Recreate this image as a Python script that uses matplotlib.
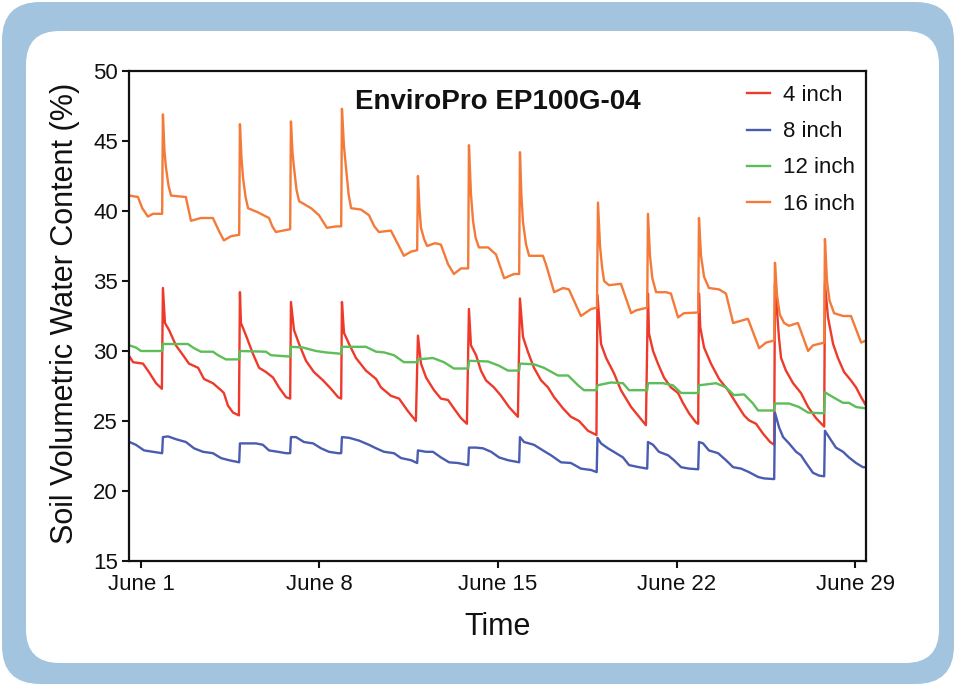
import matplotlib
matplotlib.use("Agg")
import matplotlib.pyplot as plt
from matplotlib.patches import FancyBboxPatch

plt.rcParams['font.family'] = ['Liberation Sans', 'DejaVu Sans']

# ---------------- data (day of June, % VWC) ----------------
title = "EnviroPro EP100G-04"
series_labels = ["4 inch", "8 inch", "12 inch", "16 inch"]
series_colors = ["#EE3A2B", "#4A5CB0", "#5DBD58", "#F47A3A"]
xtick_days = [1, 8, 15, 22, 29]
xtick_labels = ["June 1", "June 8", "June 15", "June 22", "June 29"]
yticks = [15, 20, 25, 30, 35, 40, 45, 50]

t4 = [0.55, 0.69, 1.08, 1.31, 1.59, 1.82, 1.86, 1.94, 2.10, 2.37, 2.65, 2.88, 3.24, 3.47, 3.82, 4.14, 4.25, 4.41, 4.61, 4.84,
      4.88, 4.92, 5.12, 5.39, 5.63, 5.90, 6.18, 6.41, 6.69, 6.85, 6.88, 7.00, 7.20, 7.47, 7.78, 8.14, 8.45, 8.73, 8.85,
      8.88, 8.96, 9.16, 9.43, 9.82, 10.22, 10.41, 10.80, 11.12, 11.47, 11.78, 11.86, 11.98, 12.18, 12.49, 12.76, 13.04,
      13.27, 13.55, 13.78, 13.86, 13.94, 14.14, 14.33, 14.53, 14.84, 15.12, 15.43, 15.78, 15.86, 15.98, 16.18, 16.41,
      16.69, 16.96, 17.20, 17.55, 17.86, 18.18, 18.53, 18.86, 18.90, 19.04, 19.24, 19.55, 19.82, 20.22, 20.49, 20.80,
      20.88, 20.92, 21.08, 21.27, 21.51, 21.78, 22.06, 22.25, 22.49, 22.76, 22.85, 22.88, 22.93, 23.08, 23.35, 23.67,
      24.02, 24.33, 24.65, 24.84, 25.12, 25.39, 25.67, 25.83, 25.86, 26.02, 26.10, 26.29, 26.57, 26.88, 27.16, 27.47,
      27.79, 27.82, 27.94, 28.14, 28.33, 28.57, 28.84, 29.04, 29.24, 29.43]
v4 = [29.6, 29.2, 29.1, 28.5, 27.7, 27.3, 34.5, 32.0, 31.5, 30.4, 29.7, 29.1, 28.8, 28.0, 27.7, 27.2, 27.0, 26.1, 25.6, 25.4,
      34.2, 32.0, 31.1, 29.8, 28.8, 28.5, 28.1, 27.4, 26.7, 26.6, 33.5, 31.5, 30.5, 29.3, 28.5, 27.9, 27.3, 26.7, 26.6,
      33.5, 31.3, 30.5, 29.5, 28.6, 28.0, 27.4, 26.8, 26.6, 25.7, 25.0, 31.1, 29.1, 28.1, 27.2, 26.6, 26.5,
      25.9, 25.2, 24.8, 33.0, 30.4, 29.7, 28.6, 27.9, 27.4, 26.8, 26.0, 25.3, 33.75, 31.0, 29.9, 28.8,
      27.9, 27.4, 26.7, 25.9, 25.3, 25.0, 24.3, 24.0, 34.0, 30.5, 29.5, 28.4, 27.2, 26.0, 25.4, 24.7,
      34.1, 31.25, 30.0, 29.1, 28.1, 27.4, 27.0, 26.3, 25.55, 24.9, 24.8, 34.1, 31.7, 30.25, 29.1, 28.0,
      27.2, 26.3, 25.4, 25.05, 24.8, 24.1, 23.5, 23.3, 34.8, 30.9, 29.5, 28.6, 27.7, 27.0, 26.0, 25.2,
      24.6, 34.8, 32.4, 30.5, 29.5, 28.5, 27.9, 27.4, 26.7, 26.1]

t8 = [0.55, 0.80, 1.12, 1.47, 1.83, 1.86, 2.06, 2.37, 2.76, 3.08, 3.43, 3.82, 4.14, 4.45, 4.85, 4.88, 5.12, 5.51, 5.78,
      6.02, 6.37, 6.69, 6.85, 6.88, 7.08, 7.39, 7.75, 8.06, 8.37, 8.73, 8.85, 8.88, 9.16, 9.55, 9.94, 10.22, 10.53,
      10.92, 11.20, 11.59, 11.83, 11.86, 12.18, 12.45, 12.76, 13.08, 13.43, 13.83, 13.86, 14.14, 14.41, 14.73, 15.04,
      15.39, 15.83, 15.86, 16.02, 16.41, 16.76, 17.08, 17.47, 17.86, 18.25, 18.65, 18.87, 18.90, 19.04, 19.31, 19.63,
      19.90, 20.14, 20.53, 20.85, 20.88, 21.08, 21.31, 21.67, 21.90, 22.18, 22.49, 22.85, 22.88, 23.04, 23.27, 23.63,
      23.94, 24.22, 24.53, 24.84, 25.20, 25.43, 25.83, 25.86, 26.02, 26.18, 26.41, 26.69, 26.88, 27.08, 27.35, 27.59,
      27.79, 27.82, 27.98, 28.25, 28.53, 28.76, 29.04, 29.31, 29.43]
v8 = [23.5, 23.3, 22.9, 22.8, 22.7, 23.85, 23.9, 23.7, 23.5, 23.05, 22.8, 22.7, 22.35, 22.2, 22.05, 23.4, 23.4, 23.4, 23.3,
      22.9, 22.8, 22.7, 22.7, 23.85, 23.85, 23.5, 23.4, 23.05, 22.8, 22.7, 22.7, 23.85, 23.8, 23.6, 23.3, 23.05, 22.8,
      22.7, 22.35, 22.2, 22.0, 22.9, 22.8, 22.8, 22.4, 22.05, 22.0, 21.85, 23.1, 23.1, 23.05, 22.8, 22.4,
      22.2, 22.05, 23.85, 23.5, 23.3, 22.9, 22.55, 22.05, 22.0, 21.6, 21.5, 21.35, 23.8, 23.4, 23.05, 22.7,
      22.4, 21.85, 21.7, 21.6, 23.5, 23.3, 22.8, 22.55, 22.2, 21.7, 21.6, 21.55, 23.5, 23.4, 22.9, 22.7,
      22.2, 21.7, 21.6, 21.35, 21.0, 20.9, 20.85, 25.6, 24.55, 23.85, 23.4, 22.8, 22.55, 22.0, 21.3, 21.1,
      21.05, 24.3, 23.85, 23.1, 22.8, 22.4, 22.0, 21.7, 21.7]

t12 = [0.55, 0.80, 1.00, 1.83, 1.86, 2.84, 3.08, 3.35, 3.82, 4.02, 4.33, 4.85, 4.88, 5.90, 6.10, 6.85, 6.88, 7.35, 7.86,
       8.25, 8.85, 8.88, 9.82, 10.22, 10.53, 10.92, 11.31, 11.83, 11.86, 12.45, 12.88, 13.27, 13.83, 13.86, 14.61,
       15.04, 15.39, 15.83, 15.86, 16.41, 16.80, 17.35, 17.75, 18.14, 18.37, 18.87, 18.90, 19.43, 19.90, 20.14, 20.85,
       20.88, 21.47, 21.86, 22.18, 22.85, 22.88, 23.55, 23.94, 24.25, 24.65, 25.00, 25.20, 25.83, 25.86, 26.41, 26.80,
       27.16, 27.79, 27.82, 28.14, 28.53, 28.76, 29.04, 29.43]
v12 = [30.4, 30.25, 30.0, 30.0, 30.5, 30.5, 30.2, 29.95, 29.95, 29.7, 29.4, 29.4, 30.0, 29.95, 29.7, 29.6, 30.3, 30.25, 30.0,
       29.9, 29.8, 30.3, 30.3, 29.95, 29.9, 29.7, 29.2, 29.2, 29.4, 29.5, 29.2, 28.75, 28.75, 29.3, 29.25,
       28.95, 28.6, 28.6, 29.1, 29.05, 28.8, 28.25, 28.25, 27.55, 27.2, 27.2, 27.55, 27.75, 27.7, 27.2, 27.2,
       27.7, 27.7, 27.55, 27.0, 27.0, 27.55, 27.7, 27.4, 26.85, 26.9, 26.25, 25.75, 25.75, 26.25, 26.25, 26.0,
       25.6, 25.55, 27.05, 26.7, 26.3, 26.3, 26.0, 25.9]

t16 = [0.55, 0.88, 1.05, 1.27, 1.47, 1.83, 1.86, 1.92, 1.98, 2.08, 2.18, 2.76, 2.96, 3.35, 3.82, 4.05, 4.25, 4.53, 4.85,
       4.88, 4.94, 5.00, 5.10, 5.20, 5.59, 6.02, 6.15, 6.29, 6.57, 6.85,
       6.88, 6.94, 7.00, 7.10, 7.20, 7.67, 7.98, 8.29, 8.65, 8.85,
       8.88, 8.96, 9.04, 9.14, 9.24, 9.63, 9.94, 10.15, 10.33, 10.80, 11.00, 11.31, 11.59, 11.83,
       11.86, 11.92, 11.98, 12.10, 12.22, 12.53, 12.76, 13.04, 13.27, 13.55, 13.83,
       13.86, 13.94, 14.02, 14.12, 14.25, 14.61, 14.92, 15.24, 15.63, 15.83,
       15.86, 15.92, 15.98, 16.10, 16.22, 16.76, 16.88, 17.20, 17.55, 17.78, 18.25, 18.65, 18.88,
       18.92, 19.00, 19.08, 19.16, 19.35, 19.82, 20.22, 20.41, 20.85,
       20.88, 20.96, 21.05, 21.20, 21.59, 21.78, 22.06, 22.29, 22.85,
       22.88, 22.96, 23.08, 23.27, 23.67, 23.94, 24.22, 24.61, 24.80, 25.24, 25.51, 25.83,
       25.86, 25.94, 26.05, 26.22, 26.41, 26.76, 27.16, 27.35, 27.79,
       27.82, 27.90, 28.00, 28.18, 28.53, 28.84, 29.24, 29.43]
v16 = [41.1, 41.0, 40.2, 39.6, 39.8, 39.8, 46.9, 44.3, 43.1, 41.8, 41.1, 41.0, 39.3, 39.5, 39.5, 38.6, 37.9, 38.2, 38.3,
       46.2, 43.8, 42.4, 41.0, 40.2, 39.9, 39.5, 38.9, 38.5, 38.6, 38.7,
       46.4, 44.2, 43.1, 41.5, 40.7, 40.2, 39.7, 38.8, 38.9, 38.9,
       47.3, 44.6, 43.1, 41.2, 40.2, 40.1, 39.7, 38.9, 38.5, 38.6, 37.9, 36.8, 37.1, 37.2,
       42.5, 40.2, 38.8, 38.0, 37.5, 37.7, 37.6, 36.2, 35.5, 35.9, 35.9,
       44.7, 41.2, 39.3, 38.1, 37.4, 37.4, 36.9, 35.2, 35.5, 35.5,
       44.2, 41.0, 39.2, 37.6, 36.8, 36.8, 36.2, 34.2, 34.5, 34.4, 32.5, 33.0, 33.1,
       40.6, 37.5, 36.0, 35.0, 34.7, 34.8, 32.7, 32.9, 33.1,
       39.8, 36.8, 35.2, 34.2, 34.2, 34.1, 32.4, 32.7, 32.75,
       39.5, 36.8, 35.3, 34.5, 34.4, 34.1, 32.0, 32.2, 32.3, 30.2, 30.6, 30.75,
       36.3, 34.0, 32.6, 32.0, 31.8, 32.0, 30.0, 30.4, 30.6,
       38.0, 35.0, 33.6, 32.7, 32.5, 32.5, 30.6, 30.75]

series_t = [t4, t8, t12, t16]
series_v = [v4, v8, v12, v16]

# ---------------- figure ----------------
W, H = 959, 687
fig = plt.figure(figsize=(W / 100, H / 100), dpi=100)
fig.patch.set_facecolor("white")

# decorative frame (drawn beneath the axes)
outer = FancyBboxPatch((2 / W, 3 / H), 952 / W, 682 / H,
                       boxstyle="round,pad=0,rounding_size=0.04",
                       transform=fig.transFigure, facecolor="#A3C4DE", edgecolor="none",
                       mutation_aspect=W / H, zorder=-2)
inner = FancyBboxPatch((26 / W, 24 / H), 913 / W, 632 / H,
                       boxstyle="round,pad=0,rounding_size=0.035",
                       transform=fig.transFigure, facecolor="white", edgecolor="none",
                       mutation_aspect=W / H, zorder=-1)
fig.patches.extend([outer, inner])

ax = fig.add_axes([129 / W, 1 - 561 / H, 737 / W, 490 / H])
ax.set_facecolor("none")
ax.set_zorder(1)

for t, v, c, lab in zip(series_t, series_v, series_colors, series_labels):
    ax.plot(t, v, color=c, lw=1.7, label=lab, solid_joinstyle="round")

ax.set_xlim(0.53, 29.43)
ax.set_ylim(15, 50)
ax.set_xticks(xtick_days)
ax.set_xticklabels(xtick_labels)
ax.set_yticks(yticks)

for s in ax.spines.values():
    s.set_linewidth(1.6)
    s.set_color("#111111")

ax.tick_params(axis="both", direction="out", length=5, width=1.5, labelsize=16, colors="#111111")
ax.tick_params(axis="x", pad=4)
ax.tick_params(axis="y", pad=3)

ax.set_ylabel("Soil Volumetric Water Content (%)", fontsize=22, color="#111111")
ax.yaxis.set_label_coords(-0.066, 0.505)
ax.set_xlabel("Time", fontsize=22, color="#111111")
ax.xaxis.set_label_coords(0.5, -0.105)

ax.text(0.5, 0.937, title, transform=ax.transAxes, ha="center", va="center",
        fontsize=20, fontweight="bold", color="#111111")

leg = ax.legend(loc="upper left", bbox_to_anchor=(0.838, 0.971), frameon=False, fontsize=16,
                handlelength=1.05, handletextpad=0.6, labelspacing=0.68, borderpad=0, borderaxespad=0)
for txt in leg.get_texts():
    txt.set_color("#111111")

fig.savefig("out.png", dpi=100)
